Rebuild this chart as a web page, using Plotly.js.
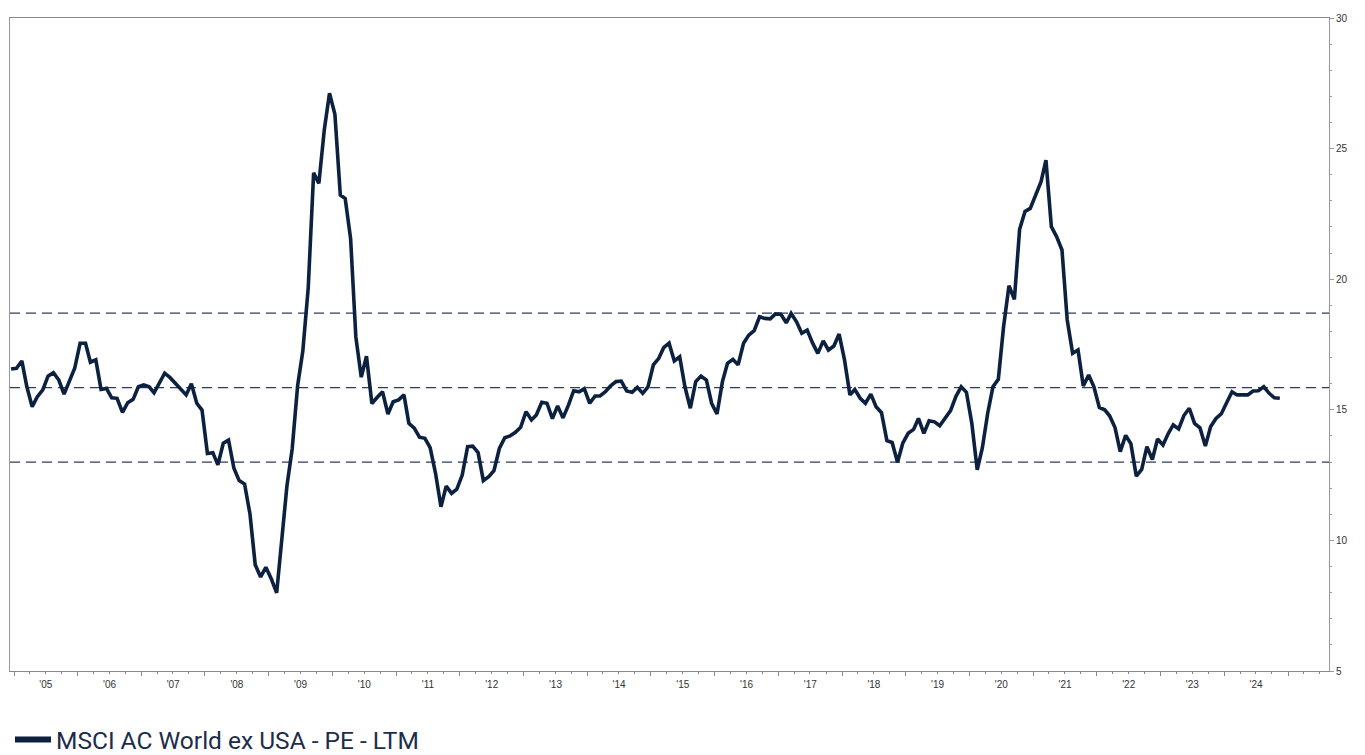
<!DOCTYPE html>
<html>
<head>
<meta charset="utf-8">
<script src="https://cdn.plot.ly/plotly-3.0.1.min.js"></script>
<style>
html,body{margin:0;padding:0;background:#fff;}
#chart{width:1365px;height:755px;}
</style>
</head>
<body>
<div id="chart"></div>
<script>
// Monthly series, first observation December 2004, last December 2024
const seriesName = "MSCI AC World ex USA - PE - LTM";
const startYear = 2004, startMonth = 12;
const peValues = [
  16.56,
  16.59,16.87,15.9,15.12,15.5,15.76,16.29,16.42,16.14,15.6,16.08,16.59,
  17.55,17.55,16.82,16.91,15.78,15.82,15.46,15.44,14.9,15.27,15.4,15.88,
  15.95,15.88,15.65,16.0,16.4,16.23,16.0,15.78,15.57,16.0,15.25,14.99,
  13.33,13.36,12.89,13.72,13.84,12.76,12.29,12.16,11.01,9.07,8.6,8.97,
  8.53,7.99,9.87,12.09,13.5,15.91,17.25,19.67,24.07,23.67,25.71,27.12,
  26.31,23.22,23.09,21.55,17.79,16.25,17.05,15.24,15.48,15.69,14.84,15.31,
  15.38,15.57,14.48,14.3,13.95,13.91,13.55,12.57,11.29,12.08,11.8,11.96,
  12.5,13.59,13.61,13.36,12.29,12.44,12.67,13.52,13.93,14.0,14.14,14.33,
  14.93,14.61,14.8,15.29,15.25,14.66,15.15,14.69,15.18,15.73,15.69,15.81,
  15.25,15.53,15.53,15.69,15.92,16.08,16.1,15.72,15.67,15.86,15.63,15.88,
  16.72,16.97,17.38,17.55,16.87,17.03,15.88,15.06,16.08,16.29,16.14,15.25,
  14.84,16.08,16.78,16.93,16.72,17.55,17.86,18.03,18.56,18.5,18.48,18.67,
  18.66,18.33,18.69,18.37,17.93,18.05,17.57,17.16,17.64,17.29,17.44,17.9,
  16.91,15.57,15.78,15.44,15.25,15.6,15.12,14.89,13.82,13.75,12.99,13.72,
  14.1,14.25,14.67,14.1,14.58,14.54,14.39,14.71,14.97,15.5,15.88,15.67,
  14.48,12.7,13.53,14.87,15.88,16.17,18.18,19.75,19.23,21.91,22.59,22.71,
  23.22,23.73,24.56,22.01,21.63,21.12,18.44,17.16,17.29,15.91,16.33,15.88,
  15.09,15.0,14.77,14.32,13.4,14.02,13.7,12.46,12.72,13.59,13.1,13.88,
  13.65,14.1,14.42,14.27,14.78,15.06,14.48,14.31,13.61,14.35,14.67,14.84,
  15.27,15.69,15.57,15.57,15.57,15.72,15.73,15.88,15.63,15.46,15.44
];
// Reference levels: average and +/- 1 standard deviation
const refLevels = [13.0, 15.85, 18.7];

const dates = [];
for (let i = 0; i < peValues.length; i++) {
  const t = (startMonth - 1) + i;
  const y = startYear + Math.floor(t / 12);
  const m = (t % 12) + 1;
  dates.push(y + "-" + String(m).padStart(2, "0") + "-15");
}

const navy = "#0c2140";
const trace = {
  x: dates, y: peValues, type: "scatter", mode: "lines",
  name: seriesName, showlegend: false,
  line: {color: navy, width: 3.6, shape: "linear"},
  hoverinfo: "x+y"
};
// legend entry with the thicker swatch used in the reference
const legendEntry = {
  x: [null], y: [null], type: "scatter", mode: "lines",
  name: seriesName, showlegend: true,
  line: {color: navy, width: 6}, hoverinfo: "skip"
};

const shapes = refLevels.map(v => ({
  type: "line", xref: "paper", yref: "y", x0: 0, x1: 1, y0: v, y1: v,
  line: {color: "#2b3d5e", width: 1.3, dash: "10px,6px"}, layer: "below"
}));

const layout = {
  width: 1365, height: 755,
  margin: {l: 10, r: 36, t: 18, b: 84, pad: 0, autoexpand: false},
  paper_bgcolor: "#ffffff", plot_bgcolor: "#ffffff",
  font: {family: "Liberation Sans, Arial, sans-serif", color: "#333333", size: 10},
  showlegend: true,
  legend: {
    orientation: "h", x: 0.0, xanchor: "left", y: -0.105, yanchor: "middle",
    font: {family: "Roboto, sans-serif", size: 24.5, color: "#1c2d4a"},
    itemwidth: 36, bgcolor: "rgba(0,0,0,0)"
  },
  xaxis: {
    type: "date",
    range: ["2004-12-09", "2025-08-24"],
    showgrid: false, zeroline: false,
    showline: true, linecolor: "#888888", linewidth: 1, mirror: true,
    ticks: "outside", ticklen: 4, tickcolor: "#888888", tickwidth: 1,
    dtick: "M12", tick0: "2005-01-01",
    tickformat: "'%y", ticklabelmode: "period",
    labelalias: {"'25": " "},
    tickfont: {size: 10, color: "#333333"},
    minor: {dtick: "M3", tick0: "2005-01-01", ticks: "outside", ticklen: 2, tickcolor: "#888888", showgrid: false}
  },
  yaxis: {
    side: "right", range: [5, 30],
    showgrid: false, zeroline: false,
    showline: true, linecolor: "#999999", linewidth: 1, mirror: true,
    ticks: "outside", ticklen: 4, tickcolor: "#999999",
    dtick: 5, tick0: 5,
    tickfont: {size: 10, color: "#333333"},
    minor: {dtick: 1, ticks: "outside", ticklen: 2, tickcolor: "#999999", showgrid: false}
  },
  shapes: shapes
};

Plotly.newPlot("chart", [trace, legendEntry], layout, {displayModeBar: false, staticPlot: true});
</script>
</body>
</html>
